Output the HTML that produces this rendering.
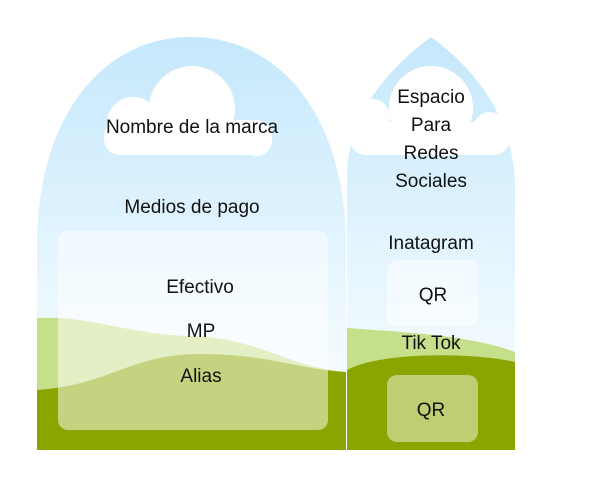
<!DOCTYPE html>
<html><head><meta charset="utf-8"><style>
html,body{margin:0;padding:0;background:#fff;}
svg{display:block;}
text{font-family:"Liberation Sans","DejaVu Sans",sans-serif;font-size:19px;fill:#111;text-anchor:middle;}
</style></head><body>
<svg width="600" height="480" viewBox="0 0 600 480" xmlns="http://www.w3.org/2000/svg">
<defs>
<linearGradient id="sk" gradientUnits="userSpaceOnUse" x1="0" y1="37" x2="0" y2="380">
<stop offset="0" stop-color="#c5e8fc"/>
<stop offset="1" stop-color="#f6fcff"/>
</linearGradient>
<clipPath id="cl"><path d="M37,450 L37,245 C37,120 100,37 191,37 C282,37 346,120 346,245 L346,450 Z"/></clipPath>
<clipPath id="cr"><path d="M347,450 L347,170 Q352,95 431,37 Q510,95 515,180 L515,450 Z"/></clipPath>
</defs>
<g clip-path="url(#cl)">
<rect x="37" y="30" width="309" height="420" fill="url(#sk)"/>
<g fill="#fff">
<circle cx="192" cy="109" r="43"/>
<circle cx="133" cy="123" r="26"/>
<circle cx="256" cy="140" r="16"/>
<rect x="104" y="120" width="168" height="35" rx="16"/>
</g>
<path d="M37,318 C90,315 130,335 190,336 C260,338 290,368 346,372 L346,450 L37,450 Z" fill="#c6df8a"/>
<path d="M37,390 C110,385 130,354 200,354 C270,354 300,370 346,372 L346,450 L37,450 Z" fill="#8aa500"/>
</g>
<g clip-path="url(#cr)">
<rect x="347" y="30" width="168" height="420" fill="url(#sk)"/>
<g fill="#fff">
<circle cx="431" cy="108" r="42"/>
<circle cx="372" cy="117" r="18"/>
<circle cx="490" cy="129" r="17"/>
<rect x="350" y="122" width="160" height="33" rx="16"/>
</g>
<path d="M347,328 C400,332 470,335 515,352 L515,450 L347,450 Z" fill="#c6df8a"/>
<path d="M347,370 C380,352 470,352 515,362 L515,450 L347,450 Z" fill="#8aa500"/>
</g>
<rect x="58" y="231" width="270" height="199" rx="10" fill="#fff" fill-opacity="0.5"/>
<rect x="387" y="260" width="91" height="66" rx="10" fill="#fff" fill-opacity="0.5"/>
<rect x="387" y="375" width="91" height="67" rx="10" fill="#fff" fill-opacity="0.45"/>
<text x="192" y="133">Nombre de la marca</text>
<text x="192" y="213">Medios de pago</text>
<text x="200" y="293">Efectivo</text>
<text x="201" y="337">MP</text>
<text x="201" y="382">Alias</text>
<text x="431" y="103">Espacio</text>
<text x="431" y="131">Para</text>
<text x="431" y="159">Redes</text>
<text x="431" y="187">Sociales</text>
<text x="431" y="249">Inatagram</text>
<text x="433" y="301">QR</text>
<text x="431" y="349">Tik Tok</text>
<text x="431" y="416">QR</text>
</svg>
</body></html>
